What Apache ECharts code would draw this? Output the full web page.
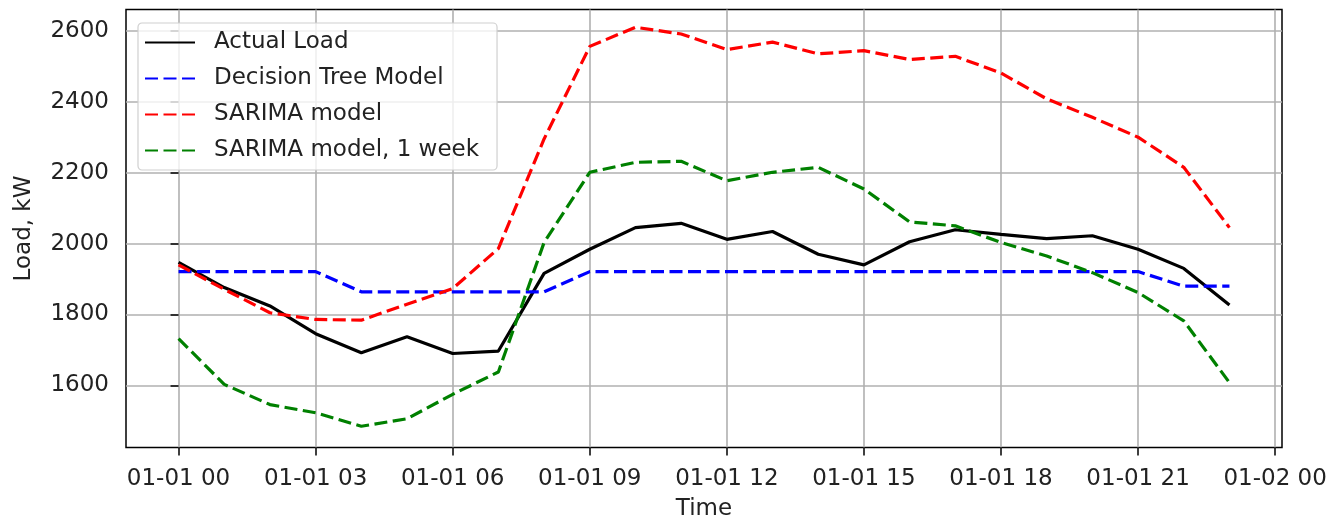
<!DOCTYPE html>
<html>
<head>
<meta charset="utf-8">
<script src="https://cdn.jsdelivr.net/npm/echarts@6/dist/echarts.min.js"></script>
<style>
html,body{margin:0;padding:0;background:#fff;}
#chart{width:1343px;height:519px;}
</style>
</head>
<body>
<div id="chart"></div>
<script>
const hours = [0,1,2,3,4,5,6,7,8,9,10,11,12,13,14,15,16,17,18,19,20,21,22,23];
const actualLoad = [1947,1876,1824,1746,1692,1737,1690,1697,1916,1984,2045,2057,2012,2034,1970,1940,2005,2039,2026,2014,2022,1984,1930,1827];
const decisionTree = [1921,1921,1921,1921,1864,1864,1864,1864,1864,1921,1921,1921,1921,1921,1921,1921,1921,1921,1921,1921,1921,1921,1880,1880];
const sarima = [1940,1871,1805,1786,1784,1829,1873,1986,2295,2556,2610,2591,2547,2568,2535,2544,2519,2528,2481,2408,2356,2300,2215,2045];
const sarimaWeek = [1732,1603,1546,1523,1485,1506,1575,1638,2003,2201,2229,2232,2177,2201,2215,2154,2061,2050,2003,1965,1918,1862,1782,1608];
const xTicks = [0,3,6,9,12,15,18,21,24];
const xTickLabels = ['01-01 00','01-01 03','01-01 06','01-01 09','01-01 12','01-01 15','01-01 18','01-01 21','01-02 00'];
const yTicks = [1600,1800,2000,2200,2400,2600];
const seriesNames = ['Actual Load','Decision Tree Model','SARIMA model','SARIMA model, 1 week'];

const pairs = arr => hours.map((h,i)=>[h,arr[i]]);
const font = 'DejaVu Sans';
const fs = 23;
const chart = echarts.init(document.getElementById('chart'), null, {renderer:'canvas'});

function lineSeries(name, arr, color, dashed){
  return {
    name, type:'line', data:pairs(arr), showSymbol:false, symbol:'none',
    lineStyle:{color, width:3.2, type: dashed ? [13,5.5] : 'solid'},
    itemStyle:{color}, animation:false, silent:true
  };
}

chart.setOption({
  animation:false,
  grid:{left:126, right:61, top:9.5, bottom:71.5, show:true, borderColor:'#000', borderWidth:1.5, backgroundColor:'transparent', containLabel:false, outerBoundsMode:'none'},
  legend:{
    orient:'vertical', left:138, top:23, data:seriesNames,
    itemWidth:50, itemHeight:14, itemGap:13,
    padding:[8,18,8,6],
    itemStyle:{opacity:0},
    backgroundColor:'rgba(255,255,255,0.8)', borderColor:'#d0d0d0', borderWidth:1.2, borderRadius:4,
    textStyle:{fontFamily:font, fontSize:fs, color:'#222', padding:[0,0,0,14]}
  },
  xAxis:{
    type:'value', min:-1.15, max:24.15,
    name:'Time', nameLocation:'middle', nameGap:50,
    nameTextStyle:{fontFamily:font, fontSize:fs, color:'#222'},
    axisLine:{show:false},
    axisTick:{show:true, customValues:xTicks, length:8, inside:false, lineStyle:{color:'#000', width:1.5}},
    axisLabel:{customValues:xTicks, margin:20, fontFamily:font, fontSize:fs, color:'#222',
      formatter:(v)=>xTickLabels[xTicks.indexOf(Math.round(v))]},
    splitLine:{show:true, lineStyle:{color:'#b0b0b0', width:1.6}}
  },
  yAxis:{
    type:'value', min:1425, max:2660,
    name:'Load, kW', nameLocation:'middle', nameGap:90, nameRotate:90,
    nameTextStyle:{fontFamily:font, fontSize:fs, color:'#222'},
    axisLine:{show:false},
    axisTick:{show:true, customValues:yTicks, length:8, lineStyle:{color:'#000', width:1.5}},
    axisLabel:{customValues:yTicks, margin:17, fontFamily:font, fontSize:fs, color:'#222',
      formatter:(v)=>String(v)},
    splitLine:{show:true, lineStyle:{color:'#b0b0b0', width:1.6}}
  },
  series:[
    lineSeries(seriesNames[0], actualLoad, '#000000', false),
    lineSeries(seriesNames[1], decisionTree, '#0000ff', true),
    lineSeries(seriesNames[2], sarima, '#ff0000', true),
    lineSeries(seriesNames[3], sarimaWeek, '#008000', true)
  ]
});
</script>
</body>
</html>
